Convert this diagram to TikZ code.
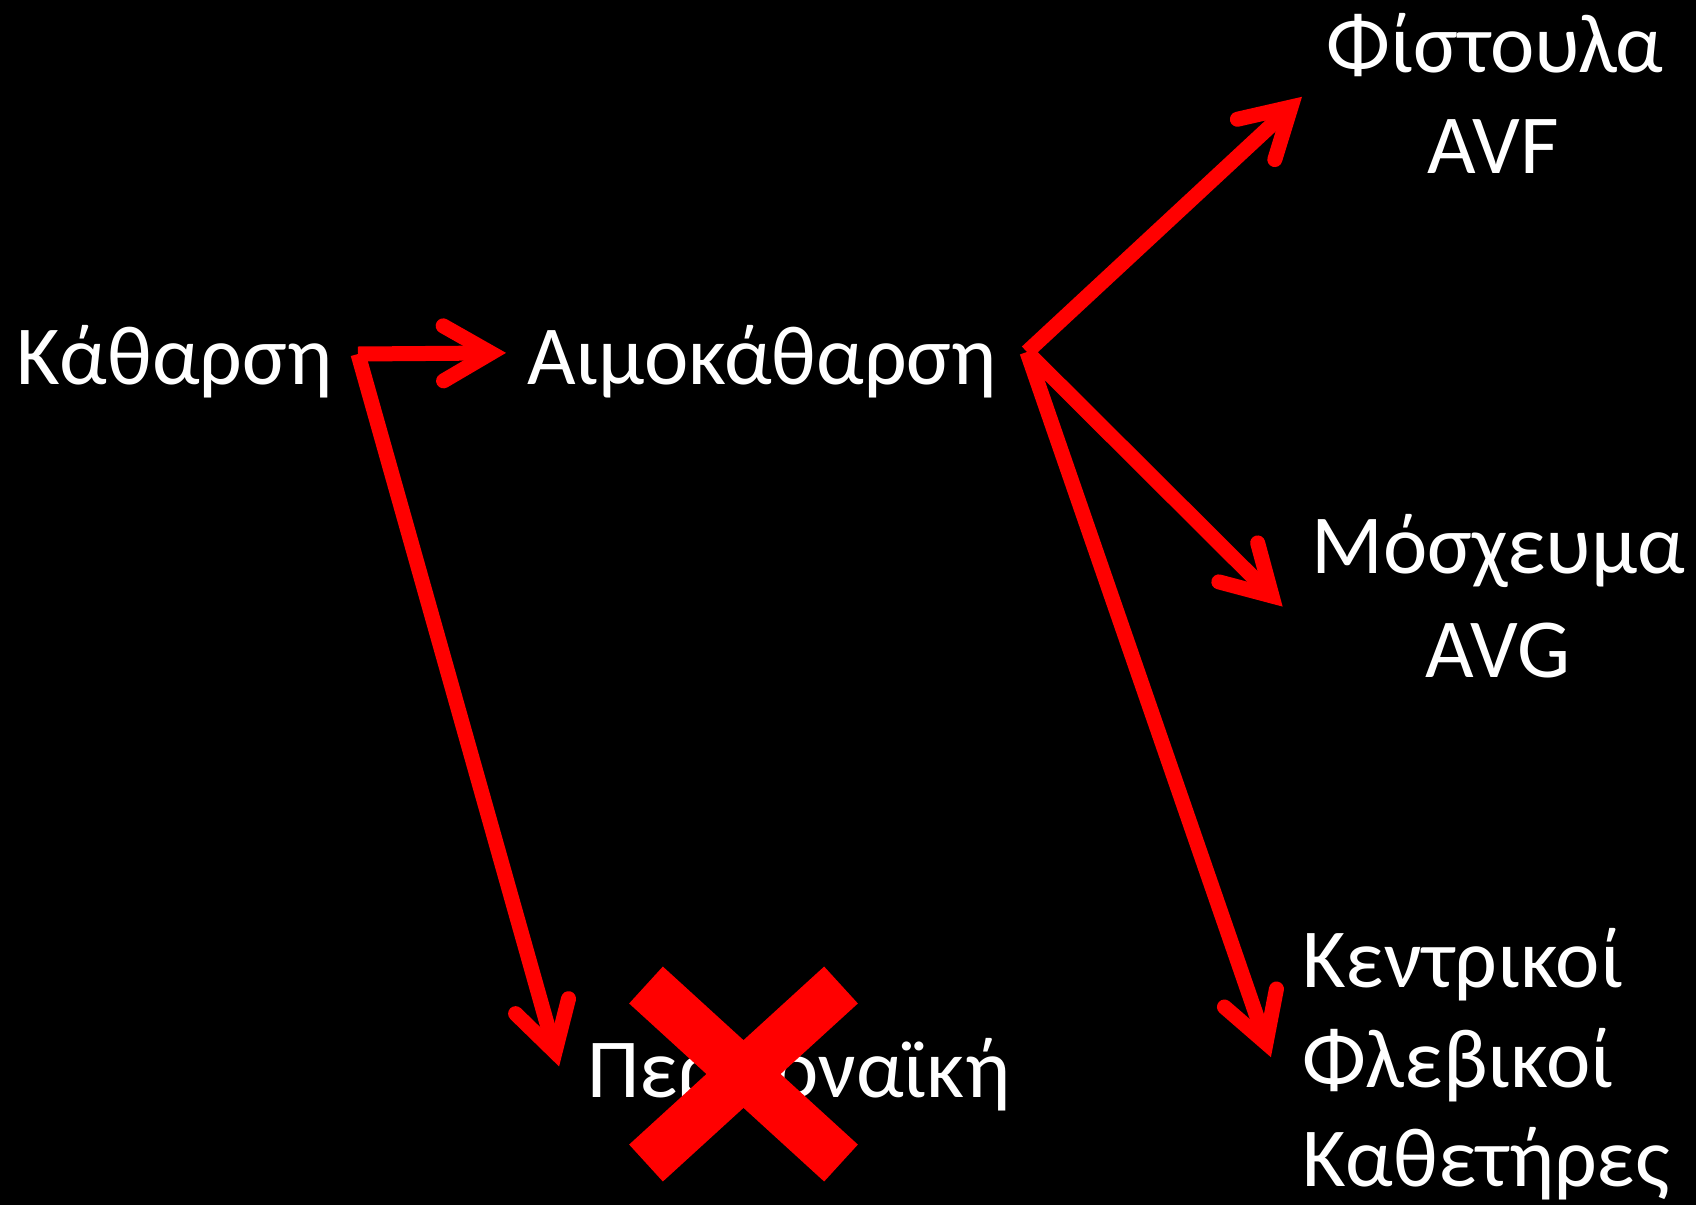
\documentclass[tikz,border=0pt]{standalone}
\usepackage{fontspec}
\setmainfont{Carlito}
\usetikzlibrary{calc}
\newcommand\arrowhd[2]{\draw[headstyle] ($(#2)!55pt!30:(#1)$) -- (#2) -- ($(#2)!55pt!-30:(#1)$);}
\begin{document}
\begin{tikzpicture}[x=1pt,y=-1pt,
  lbl/.style={text=white,inner sep=0pt,font=\fontsize{84}{101}\selectfont},
  conn/.style={draw=red,line width=15pt,line cap=butt},
  headstyle/.style={draw=red,line width=15pt,line cap=round,line join=miter},
  crossbar/.style={draw=red,line width=50pt,line cap=butt}]
\fill[black] (0,0) rectangle (1696,1205);
\useasboundingbox (0,0) rectangle (1696,1205);
% text nodes
\node[lbl,anchor=base west] (kath) at (16,384) {Κάθαρση};
\node[lbl,anchor=base west] (aimo) at (527,384) {Αιμοκάθαρση};
\node[lbl,anchor=base] (fist) at (1495,72) {Φίστουλα};
\node[lbl,anchor=base] (avf) at (1493,173) {AVF};
\node[lbl,anchor=base] (mosx) at (1498,573) {Μόσχευμα};
\node[lbl,anchor=base] (avg) at (1498,677) {AVG};
\node[lbl,anchor=base west] (kent) at (1302,987) {Κεντρικοί};
\node[lbl,anchor=base west] (fleb) at (1302,1087) {Φλεβικοί};
\node[lbl,anchor=base west] (kathet) at (1302,1186) {Καθετήρες};
\node[lbl,anchor=base west] (perit) at (587,1097) {Περιτοναϊκή};
% connector endpoints
\coordinate (kout) at (358,354);
\coordinate (aout) at (1027,352);
\coordinate (t1) at (491,353);
\coordinate (t2) at (555,1052);
\coordinate (t3) at (1291,107);
\coordinate (t4) at (1272,596);
\coordinate (t5) at (1266,1043);
% connectors
\draw[conn] (kout) -- (t1); \arrowhd{kout}{t1}
\draw[conn] (kout) -- (t2); \arrowhd{kout}{t2}
\draw[conn] (aout) -- (t3); \arrowhd{aout}{t3}
\draw[conn] (aout) -- (t4); \arrowhd{aout}{t4}
\draw[conn] (aout) -- (t5); \arrowhd{aout}{t5}
% cross over Περιτοναϊκή
\coordinate (xc) at (743.5,1074);
\draw[crossbar] ($(xc)+(-97.5,-89)$) -- ($(xc)+(97.5,89)$);
\draw[crossbar] ($(xc)+(-97.5,89)$) -- ($(xc)+(97.5,-89)$);
\end{tikzpicture}
\end{document}
